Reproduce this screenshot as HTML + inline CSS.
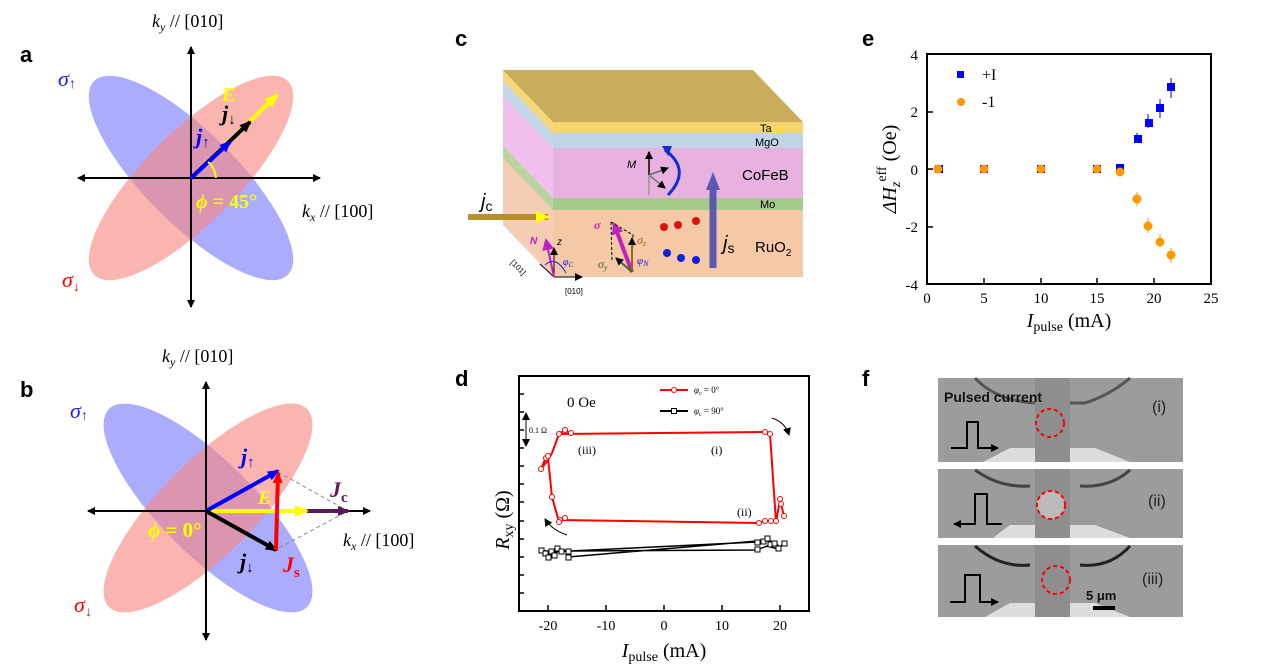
<!DOCTYPE html>
<html><head><meta charset="utf-8"><style>
html,body{margin:0;padding:0;background:#fff;}
svg{display:block;}
.s{font-family:"Liberation Serif",serif;}
.a{font-family:"Liberation Sans",sans-serif;}
</style></head><body>
<svg width="1268" height="668" viewBox="0 0 1268 668" xmlns="http://www.w3.org/2000/svg">
<defs>
<marker id="ak" markerWidth="8" markerHeight="8" refX="7" refY="4" orient="auto" markerUnits="userSpaceOnUse"><path d="M0,0 L8,4 L0,8 z" fill="#000"/></marker>
<marker id="ab" markerWidth="12" markerHeight="10" refX="10" refY="5" orient="auto" markerUnits="userSpaceOnUse"><path d="M0,0 L12,5 L0,10 z" fill="#00f"/></marker>
<marker id="abk" markerWidth="12" markerHeight="10" refX="10" refY="5" orient="auto" markerUnits="userSpaceOnUse"><path d="M0,0 L12,5 L0,10 z" fill="#000"/></marker>
<marker id="ay" markerWidth="14" markerHeight="12" refX="12" refY="6" orient="auto" markerUnits="userSpaceOnUse"><path d="M0,0 L14,6 L0,12 z" fill="#ff0"/></marker>
<marker id="ar" markerWidth="12" markerHeight="10" refX="10" refY="5" orient="auto" markerUnits="userSpaceOnUse"><path d="M0,0 L12,5 L0,10 z" fill="#f00"/></marker>
<marker id="ap" markerWidth="12" markerHeight="10" refX="10" refY="5" orient="auto" markerUnits="userSpaceOnUse"><path d="M0,0 L12,5 L0,10 z" fill="#5a1a5a"/></marker>
<marker id="am" markerWidth="12" markerHeight="12" refX="10" refY="6" orient="auto" markerUnits="userSpaceOnUse"><path d="M0,0 L12,6 L0,12 z" fill="#c020c0"/></marker>
</defs>

<!-- Panel a -->
<text x="20" y="62" class="a" font-size="22" font-weight="bold">a</text>
<ellipse cx="191" cy="178" rx="137" ry="46" transform="rotate(45 191 178)" fill="#8080ff" opacity="0.65"/>
<ellipse cx="191" cy="178" rx="137" ry="46" transform="rotate(-45 191 178)" fill="#f88880" opacity="0.62"/>
<line x1="191" y1="307" x2="191" y2="47" stroke="#000" stroke-width="2" marker-end="url(#ak)"/>
<line x1="191" y1="300" x2="191" y2="307" stroke="#000" stroke-width="2" marker-end="url(#ak)"/>
<line x1="191" y1="178" x2="320" y2="178" stroke="#000" stroke-width="2" marker-end="url(#ak)"/>
<line x1="191" y1="178" x2="78" y2="178" stroke="#000" stroke-width="2" marker-end="url(#ak)"/>
<line x1="191" y1="178" x2="277" y2="95" stroke="#ff0" stroke-width="4" marker-end="url(#ay)"/>
<line x1="191" y1="178" x2="250" y2="122" stroke="#000" stroke-width="4" marker-end="url(#abk)"/>
<line x1="191" y1="178" x2="230" y2="142" stroke="#00f" stroke-width="4" marker-end="url(#ab)"/>
<path d="M216,178 Q214,166 208,162" stroke="#ff0" stroke-width="2" fill="none"/>
<text x="152" y="27" class="s" font-size="18"><tspan font-style="italic">k</tspan><tspan font-size="12" font-style="italic" dy="4">y</tspan><tspan dy="-4"> // [010]</tspan></text>
<text x="302" y="217" class="s" font-size="18"><tspan font-style="italic">k</tspan><tspan font-size="12" font-style="italic" dy="4">x</tspan><tspan dy="-4"> // [100]</tspan></text>
<text x="58" y="86" class="s" font-size="22" fill="#2020ff" font-style="italic">σ<tspan font-size="14" dy="2">↑</tspan></text>
<text x="62" y="287" class="s" font-size="22" fill="#f00" font-style="italic">σ<tspan font-size="14" dy="4">↓</tspan></text>
<text x="196" y="208" class="s" font-size="20" font-weight="bold" fill="#ff0" font-style="italic">ϕ<tspan font-style="normal"> = 45°</tspan></text>
<text x="222" y="101" class="s" font-size="20" font-weight="bold" fill="#ff0" font-style="italic">E</text>
<text x="222" y="121" class="s" font-size="22" font-weight="bold" font-style="italic">j<tspan font-size="15" dy="3" font-style="normal">↓</tspan></text>
<text x="196" y="144" class="s" font-size="22" font-weight="bold" fill="#00f" font-style="italic">j<tspan font-size="15" dy="3" font-style="normal">↑</tspan></text>

<!-- Panel b -->
<text x="20" y="397" class="a" font-size="22" font-weight="bold">b</text>
<ellipse cx="208" cy="508" rx="140" ry="47" transform="rotate(45 208 508)" fill="#8080ff" opacity="0.65"/>
<ellipse cx="208" cy="508" rx="140" ry="47" transform="rotate(-45 208 508)" fill="#f88880" opacity="0.62"/>
<line x1="206" y1="640" x2="206" y2="382" stroke="#000" stroke-width="2" marker-end="url(#ak)"/>
<line x1="206" y1="520" x2="206" y2="640" stroke="#000" stroke-width="2" marker-end="url(#ak)"/>
<line x1="206" y1="511" x2="370" y2="511" stroke="#000" stroke-width="2" marker-end="url(#ak)"/>
<line x1="206" y1="511" x2="88" y2="511" stroke="#000" stroke-width="2" marker-end="url(#ak)"/>
<path d="M278,472 L348,511 L275,550" stroke="#888" stroke-width="1" stroke-dasharray="4,3" fill="none"/>
<line x1="206" y1="511" x2="348" y2="511" stroke="#5a1a5a" stroke-width="4" marker-end="url(#ap)"/>
<line x1="206" y1="511" x2="307" y2="511" stroke="#ff0" stroke-width="4" marker-end="url(#ay)"/>
<line x1="206" y1="511" x2="278" y2="471" stroke="#00f" stroke-width="4" marker-end="url(#ab)"/>
<line x1="206" y1="511" x2="276" y2="550" stroke="#000" stroke-width="4" marker-end="url(#abk)"/>
<line x1="276" y1="550" x2="278" y2="473" stroke="#f00" stroke-width="4" marker-end="url(#ar)"/>
<text x="162" y="362" class="s" font-size="18"><tspan font-style="italic">k</tspan><tspan font-size="12" font-style="italic" dy="4">y</tspan><tspan dy="-4"> // [010]</tspan></text>
<text x="343" y="546" class="s" font-size="18"><tspan font-style="italic">k</tspan><tspan font-size="12" font-style="italic" dy="4">x</tspan><tspan dy="-4"> // [100]</tspan></text>
<text x="70" y="418" class="s" font-size="22" fill="#2020ff" font-style="italic">σ<tspan font-size="14" dy="2">↑</tspan></text>
<text x="74" y="612" class="s" font-size="22" fill="#f00" font-style="italic">σ<tspan font-size="14" dy="4">↓</tspan></text>
<text x="148" y="537" class="s" font-size="21" font-weight="bold" fill="#ff0" font-style="italic">ϕ<tspan font-style="normal"> = 0°</tspan></text>
<text x="258" y="504" class="s" font-size="20" font-weight="bold" fill="#ff0" font-style="italic">E</text>
<text x="241" y="464" class="s" font-size="22" font-weight="bold" fill="#00f" font-style="italic">j<tspan font-size="15" dy="3" font-style="normal">↑</tspan></text>
<text x="240" y="569" class="s" font-size="22" font-weight="bold" font-style="italic">j<tspan font-size="15" dy="3" font-style="normal">↓</tspan></text>
<text x="283" y="572" class="s" font-size="22" font-weight="bold" fill="#f00" font-style="italic">J<tspan font-size="15" dy="5" font-style="normal">s</tspan></text>
<text x="330" y="497" class="s" font-size="22" font-weight="bold" fill="#5a1a5a" font-style="italic">J<tspan font-size="15" dy="5" font-style="normal">c</tspan></text>

<!-- Panel c -->
<text x="455" y="46" class="a" font-size="22" font-weight="bold">c</text>
<polygon points="503,70 553,122 553,277 503,225" fill="#f5cdb5"/>
<polygon points="503,70 553,122 553,133 503,81" fill="#f5d77a"/>
<polygon points="503,81 553,133 553,148 503,96" fill="#c5d8ea"/>
<polygon points="503,96 553,148 553,198 503,146" fill="#f2c0ec"/>
<polygon points="503,146 553,198 553,210 503,158" fill="#b9d4a0"/>
<polygon points="503,70 753,70 803,122 553,122" fill="#c9ac5c"/>
<rect x="553" y="122" width="250" height="11" fill="#f5d56e"/>
<rect x="553" y="133" width="250" height="15" fill="#c0d4e8"/>
<rect x="553" y="148" width="250" height="50" fill="#e8b2e0"/>
<rect x="553" y="198" width="250" height="12" fill="#a6ca8c"/>
<rect x="553" y="210" width="250" height="67" fill="#f5c8a6"/>
<text x="760" y="132" class="a" font-size="11">Ta</text>
<text x="755" y="146" class="a" font-size="11">MgO</text>
<text x="742" y="180" class="a" font-size="15">CoFeB</text>
<text x="760" y="208" class="a" font-size="11">Mo</text>
<text x="755" y="252" class="a" font-size="15">RuO<tspan font-size="10" dy="4">2</tspan></text>
<line x1="468" y1="217" x2="548" y2="217" stroke="#b8902a" stroke-width="6" marker-end="url(#ay)"/>
<text x="481" y="208" class="a" font-size="20" font-style="italic">j<tspan font-size="14" font-style="normal" dy="3">c</tspan></text>
<line x1="713" y1="268" x2="713" y2="186" stroke="#5a5ab0" stroke-width="7"/>
<polygon points="706,190 713,172 720,190" fill="#5a5ab0"/>
<text x="723" y="250" class="a" font-size="20" font-style="italic">j<tspan font-size="14" font-style="normal" dy="3">s</tspan></text>
<line x1="649" y1="175" x2="649" y2="152" stroke="#333" stroke-width="2" marker-end="url(#ak)"/>
<line x1="649" y1="175" x2="668" y2="168" stroke="#666" stroke-width="1.5" marker-end="url(#ak)"/>
<line x1="649" y1="175" x2="665" y2="188" stroke="#777" stroke-width="1.5" marker-end="url(#ak)"/>
<line x1="649" y1="175" x2="649" y2="195" stroke="#999" stroke-width="1.5"/>
<path d="M665,150 Q692,170 668,195" stroke="#1030d0" stroke-width="3" fill="none"/>
<polygon points="662,146 672,146 668,156" fill="#1030d0"/>
<text x="627" y="168" class="a" font-size="11" font-style="italic">M</text>
<line x1="632" y1="272" x2="614" y2="224" stroke="#c020c0" stroke-width="4" marker-end="url(#am)"/>
<path d="M611,222 L633,235 L632,272 M611,222 L612,262" stroke="#000" stroke-dasharray="3,2" fill="none"/>
<line x1="632" y1="272" x2="632" y2="238" stroke="#9a6a10" stroke-width="2" marker-end="url(#ak)"/>
<line x1="632" y1="272" x2="616" y2="258" stroke="#3c6a30" stroke-width="2" marker-end="url(#ak)"/>
<text x="594" y="229" class="s" font-size="12" fill="#c020c0" font-style="italic" font-weight="bold">σ</text>
<text x="637" y="244" class="s" font-size="12" fill="#9a6a10" font-style="italic">σ<tspan font-size="8" dy="2">z</tspan></text>
<text x="598" y="268" class="s" font-size="12" fill="#3c6a30" font-style="italic">σ<tspan font-size="8" dy="2">y</tspan></text>
<text x="637" y="264" class="s" font-size="11" fill="#2020e0" font-style="italic">φ<tspan font-size="8" dy="2">N</tspan></text>
<g fill="#e01010"><circle cx="664" cy="227" r="4"/><circle cx="678" cy="225" r="4"/><circle cx="696" cy="221" r="4"/></g>
<g fill="#1020e0"><circle cx="667" cy="253" r="4"/><circle cx="681" cy="258" r="4"/><circle cx="696" cy="260" r="4"/></g>
<line x1="554" y1="277" x2="582" y2="277" stroke="#000" stroke-width="1" marker-end="url(#ak)"/>
<line x1="554" y1="277" x2="554" y2="248" stroke="#000" stroke-width="1" marker-end="url(#ak)"/>
<line x1="554" y1="277" x2="540" y2="264" stroke="#000" stroke-width="1"/>
<line x1="554" y1="277" x2="546" y2="240" stroke="#c020c0" stroke-width="2" marker-end="url(#am)"/>
<path d="M545,265 Q556,255 566,273" stroke="#2020e0" fill="none"/>
<text x="530" y="244" class="a" font-size="10" fill="#c020c0" font-style="italic" font-weight="bold">N</text>
<text x="557" y="245" class="a" font-size="10" font-style="italic">z</text>
<text x="563" y="265" class="s" font-size="10" fill="#2020e0" font-style="italic">φ<tspan font-size="7" dy="2">C</tspan></text>
<text x="508" y="268" class="a" font-size="8" transform="rotate(45 515 268)">[101]</text>
<text x="565" y="294" class="a" font-size="8">[010]</text>

<!-- Panel d -->
<text x="455" y="386" class="a" font-size="22" font-weight="bold">d</text>
<rect x="519" y="376" width="290" height="235" fill="none" stroke="#000" stroke-width="2"/>
<g stroke="#000" stroke-width="1.5">
<line x1="548" y1="611" x2="548" y2="605"/><line x1="606" y1="611" x2="606" y2="605"/><line x1="664" y1="611" x2="664" y2="605"/><line x1="722" y1="611" x2="722" y2="605"/><line x1="780" y1="611" x2="780" y2="605"/>
<line x1="519" y1="394" x2="524" y2="394"/><line x1="519" y1="412" x2="524" y2="412"/><line x1="519" y1="430" x2="524" y2="430"/><line x1="519" y1="448" x2="524" y2="448"/><line x1="519" y1="466" x2="524" y2="466"/><line x1="519" y1="484" x2="524" y2="484"/><line x1="519" y1="502" x2="524" y2="502"/><line x1="519" y1="521" x2="524" y2="521"/><line x1="519" y1="539" x2="524" y2="539"/><line x1="519" y1="557" x2="524" y2="557"/><line x1="519" y1="575" x2="524" y2="575"/><line x1="519" y1="593" x2="524" y2="593"/>
</g>
<g class="s" font-size="14" text-anchor="middle"><text x="548" y="630">-20</text><text x="606" y="630">-10</text><text x="664" y="630">0</text><text x="722" y="630">10</text><text x="780" y="630">20</text></g>
<text x="664" y="657" class="s" font-size="20" text-anchor="middle"><tspan font-style="italic">I</tspan><tspan font-size="14" dy="4">pulse</tspan><tspan dy="-4"> (mA)</tspan></text>
<text x="0" y="0" class="s" font-size="20" transform="translate(509 520) rotate(-90)" text-anchor="middle"><tspan font-style="italic">R</tspan><tspan font-size="14" dy="4">xy</tspan><tspan dy="-4"> (Ω)</tspan></text>
<text x="567" y="407" class="s" font-size="15">0 Oe</text>
<line x1="660" y1="390" x2="688" y2="390" stroke="#f00" stroke-width="2"/><circle cx="674" cy="390" r="2.5" fill="#fff" stroke="#f00"/>
<text x="694" y="393" class="s" font-size="9"><tspan font-style="italic">φ</tspan><tspan font-size="6" dy="2">c</tspan><tspan dy="-2"> = 0°</tspan></text>
<line x1="660" y1="411" x2="688" y2="411" stroke="#000" stroke-width="2"/><rect x="671.5" y="408.5" width="5" height="5" fill="#fff" stroke="#000"/>
<text x="694" y="414" class="s" font-size="9"><tspan font-style="italic">φ</tspan><tspan font-size="6" dy="2">c</tspan><tspan dy="-2"> = 90°</tspan></text>
<line x1="526" y1="414" x2="526" y2="446" stroke="#000" stroke-width="1" marker-end="url(#ak)"/>
<line x1="526" y1="430" x2="526" y2="413" stroke="#000" stroke-width="1" marker-end="url(#ak)"/>
<text x="529" y="433" class="s" font-size="8">0.1 Ω</text>
<text x="578" y="454" class="s" font-size="12">(iii)</text>
<text x="711" y="454" class="s" font-size="12">(i)</text>
<text x="737" y="516" class="s" font-size="12">(ii)</text>
<path d="M772,418 Q785,422 789,435" stroke="#000" fill="none" marker-end="url(#ak)"/>
<path d="M567,535 Q552,530 545,519" stroke="#000" fill="none" marker-end="url(#ak)"/>
<path fill="none" stroke="#f00" stroke-width="2" d="M559,434 L765,432 L770,434 L776,522 L780,500 L781,504 L784,516 M776,522 L771,521 L765,521 L759,523 L560,520 L565,518 L559,522 L552,497 L548,458 L546,457 L541,469 L548,460 L552,453 L559,434 L565,430 L571,434"/>
<g fill="#fff" stroke="#f00" stroke-width="1">
<circle cx="559" cy="434" r="2.5"/><circle cx="565" cy="430" r="2.5"/><circle cx="571" cy="433" r="2.5"/><circle cx="765" cy="432" r="2.5"/><circle cx="770" cy="434" r="2.5"/>
<circle cx="780" cy="499" r="2.5"/><circle cx="781" cy="504" r="2.5"/><circle cx="784" cy="516" r="2.5"/>
<circle cx="776" cy="521" r="2.5"/><circle cx="771" cy="521" r="2.5"/><circle cx="765" cy="521" r="2.5"/><circle cx="759" cy="523" r="2.5"/>
<circle cx="560" cy="520" r="2.5"/><circle cx="565" cy="518" r="2.5"/><circle cx="559" cy="522" r="2.5"/><circle cx="552" cy="497" r="2.5"/><circle cx="546" cy="458" r="2.5"/><circle cx="541" cy="469" r="2.5"/><circle cx="548" cy="456" r="2.5"/>
</g>
<path fill="none" stroke="#000" stroke-width="1.5" d="M541,550 L546,553 L553,550 L570,551 L757,542 L768,540 L775,543 L780,547 L784,543 M541,550 L553,552 L570,551 L757,550 L767,546 L778,549 M568,557 L757,541"/>
<g fill="#fff" stroke="#000" stroke-width="1">
<rect x="539" y="548" width="5" height="5"/><rect x="543" y="551" width="5" height="5"/><rect x="546" y="555" width="5" height="5"/><rect x="549" y="549" width="5" height="5"/><rect x="552" y="553" width="5" height="5"/><rect x="555" y="546" width="5" height="5"/><rect x="559" y="549" width="5" height="5"/><rect x="566" y="549" width="5" height="5"/><rect x="566" y="555" width="5" height="5"/>
<rect x="755" y="540" width="5" height="5"/><rect x="761" y="539" width="5" height="5"/><rect x="765" y="536" width="5" height="5"/><rect x="768" y="542" width="5" height="5"/><rect x="772" y="541" width="5" height="5"/><rect x="776" y="546" width="5" height="5"/><rect x="782" y="541" width="5" height="5"/><rect x="755" y="547" width="5" height="5"/>
</g>

<!-- Panel e -->
<text x="862" y="46" class="a" font-size="22" font-weight="bold">e</text>
<rect x="927" y="54" width="284" height="230" fill="none" stroke="#000" stroke-width="2"/>
<g stroke="#000" stroke-width="1.5">
<line x1="984" y1="284" x2="984" y2="278"/><line x1="1041" y1="284" x2="1041" y2="278"/><line x1="1097" y1="284" x2="1097" y2="278"/><line x1="1154" y1="284" x2="1154" y2="278"/>
<line x1="927" y1="112" x2="933" y2="112"/><line x1="927" y1="169" x2="933" y2="169"/><line x1="927" y1="227" x2="933" y2="227"/>
</g>
<g class="s" font-size="15" text-anchor="middle"><text x="927" y="303">0</text><text x="984" y="303">5</text><text x="1041" y="303">10</text><text x="1097" y="303">15</text><text x="1154" y="303">20</text><text x="1211" y="303">25</text></g>
<g class="s" font-size="15" text-anchor="end"><text x="918" y="60">4</text><text x="918" y="117">2</text><text x="918" y="175">0</text><text x="918" y="232">-2</text><text x="918" y="290">-4</text></g>
<text x="1069" y="327" class="s" font-size="20" text-anchor="middle"><tspan font-style="italic">I</tspan><tspan font-size="14" dy="4">pulse</tspan><tspan dy="-4"> (mA)</tspan></text>
<text x="0" y="0" class="s" font-size="20" transform="translate(896 169) rotate(-90)" text-anchor="middle"><tspan font-style="italic">ΔH</tspan><tspan font-size="14" dy="4" font-style="italic">z</tspan><tspan font-size="14" dy="-14">eff</tspan><tspan dy="10"> (Oe)</tspan></text>
<rect x="957" y="71" width="7" height="7" fill="#00f"/><text x="982" y="80" class="s" font-size="16">+I</text>
<circle cx="961" cy="102" r="4" fill="#f90"/><text x="982" y="107" class="s" font-size="16">-1</text>
<g stroke="#00f" stroke-width="1"><line x1="1137" y1="133" x2="1137" y2="143"/><line x1="1148" y1="114" x2="1148" y2="128"/><line x1="1160" y1="99" x2="1160" y2="118"/><line x1="1171" y1="78" x2="1171" y2="98"/></g>
<g fill="#00f"><rect x="935" y="165" width="8" height="8"/><rect x="980" y="165" width="8" height="8"/><rect x="1037" y="165" width="8" height="8"/><rect x="1093" y="165" width="8" height="8"/><rect x="1116" y="164" width="8" height="8"/><rect x="1134" y="135" width="8" height="8"/><rect x="1145" y="119" width="8" height="8"/><rect x="1156" y="104" width="8" height="8"/><rect x="1167" y="83" width="8" height="8"/></g>
<g stroke="#f90" stroke-width="1"><line x1="1137" y1="192" x2="1137" y2="206"/><line x1="1148" y1="218" x2="1148" y2="233"/><line x1="1160" y1="234" x2="1160" y2="247"/><line x1="1171" y1="248" x2="1171" y2="263"/></g>
<g fill="#f90"><circle cx="938" cy="169" r="4.5"/><circle cx="984" cy="169" r="4.5"/><circle cx="1041" cy="169" r="4.5"/><circle cx="1097" cy="169" r="4.5"/><circle cx="1120" cy="172" r="4.5"/><circle cx="1137" cy="199" r="4.5"/><circle cx="1148" cy="226" r="4.5"/><circle cx="1160" cy="242" r="4.5"/><circle cx="1171" cy="255" r="4.5"/></g>

<!-- Panel f -->
<text x="862" y="386" class="a" font-size="22" font-weight="bold">f</text>
<g>
<rect x="938" y="378" width="245" height="84" fill="#9c9c9c"/>
<path d="M975,378 Q1000,405 1050,403 L1085,403 Q1110,395 1130,378" stroke="#555" stroke-width="3" fill="none"/>
<polygon points="983,462 1010,448 1035,448 1035,462" fill="#ddd"/><polygon points="1070,462 1070,448 1095,448 1130,462" fill="#ddd"/>
<rect x="1035" y="378" width="35" height="84" fill="#8e8e8e"/>
<circle cx="1050" cy="423" r="14" fill="none" stroke="#f00" stroke-width="2" stroke-dasharray="4,3"/>
<text x="944" y="402" class="a" font-size="14" font-weight="bold" fill="#111">Pulsed current</text>
<text x="1152" y="412" class="a" font-size="16" fill="#222">(i)</text>
<path d="M951,448 L967,448 L967,422 L978,422 L978,448 L998,448" stroke="#000" stroke-width="2" fill="none" marker-end="url(#ak)"/>
</g>
<g>
<rect x="938" y="469" width="245" height="69" fill="#9c9c9c"/>
<path d="M975,470 Q1000,488 1030,486 M1080,486 Q1110,488 1130,470" stroke="#444" stroke-width="3" fill="none"/>
<polygon points="993,538 1010,525 1035,525 1035,538" fill="#ddd"/><polygon points="1070,538 1070,525 1095,525 1130,538" fill="#ddd"/>
<rect x="1035" y="469" width="35" height="69" fill="#8e8e8e"/>
<circle cx="1051" cy="505" r="14" fill="#bbb" stroke="#f00" stroke-width="2" stroke-dasharray="4,3"/>
<text x="1148" y="506" class="a" font-size="16" fill="#222">(ii)</text>
<path d="M1002,524 L987,524 L987,494 L975,494 L975,524 L954,524" stroke="#000" stroke-width="2" fill="none" marker-end="url(#ak)"/>
</g>
<g>
<rect x="938" y="545" width="245" height="72" fill="#9c9c9c"/>
<path d="M975,546 Q1000,568 1030,565 M1080,565 Q1110,568 1130,546" stroke="#222" stroke-width="3" fill="none"/>
<polygon points="985,617 1010,603 1035,603 1035,617" fill="#ddd"/><polygon points="1070,617 1070,603 1095,603 1130,617" fill="#ddd"/>
<rect x="1035" y="545" width="35" height="72" fill="#8e8e8e"/>
<circle cx="1056" cy="580" r="14" fill="none" stroke="#f00" stroke-width="2" stroke-dasharray="4,3"/>
<text x="1142" y="584" class="a" font-size="16" fill="#222">(iii)</text>
<text x="1086" y="600" class="a" font-size="13" font-weight="bold" fill="#111">5 μm</text>
<rect x="1093" y="606" width="22" height="4" fill="#000"/>
<path d="M950,602 L965,602 L965,575 L980,575 L980,602 L998,602" stroke="#000" stroke-width="2" fill="none" marker-end="url(#ak)"/>
</g>
</svg>
</body></html>
